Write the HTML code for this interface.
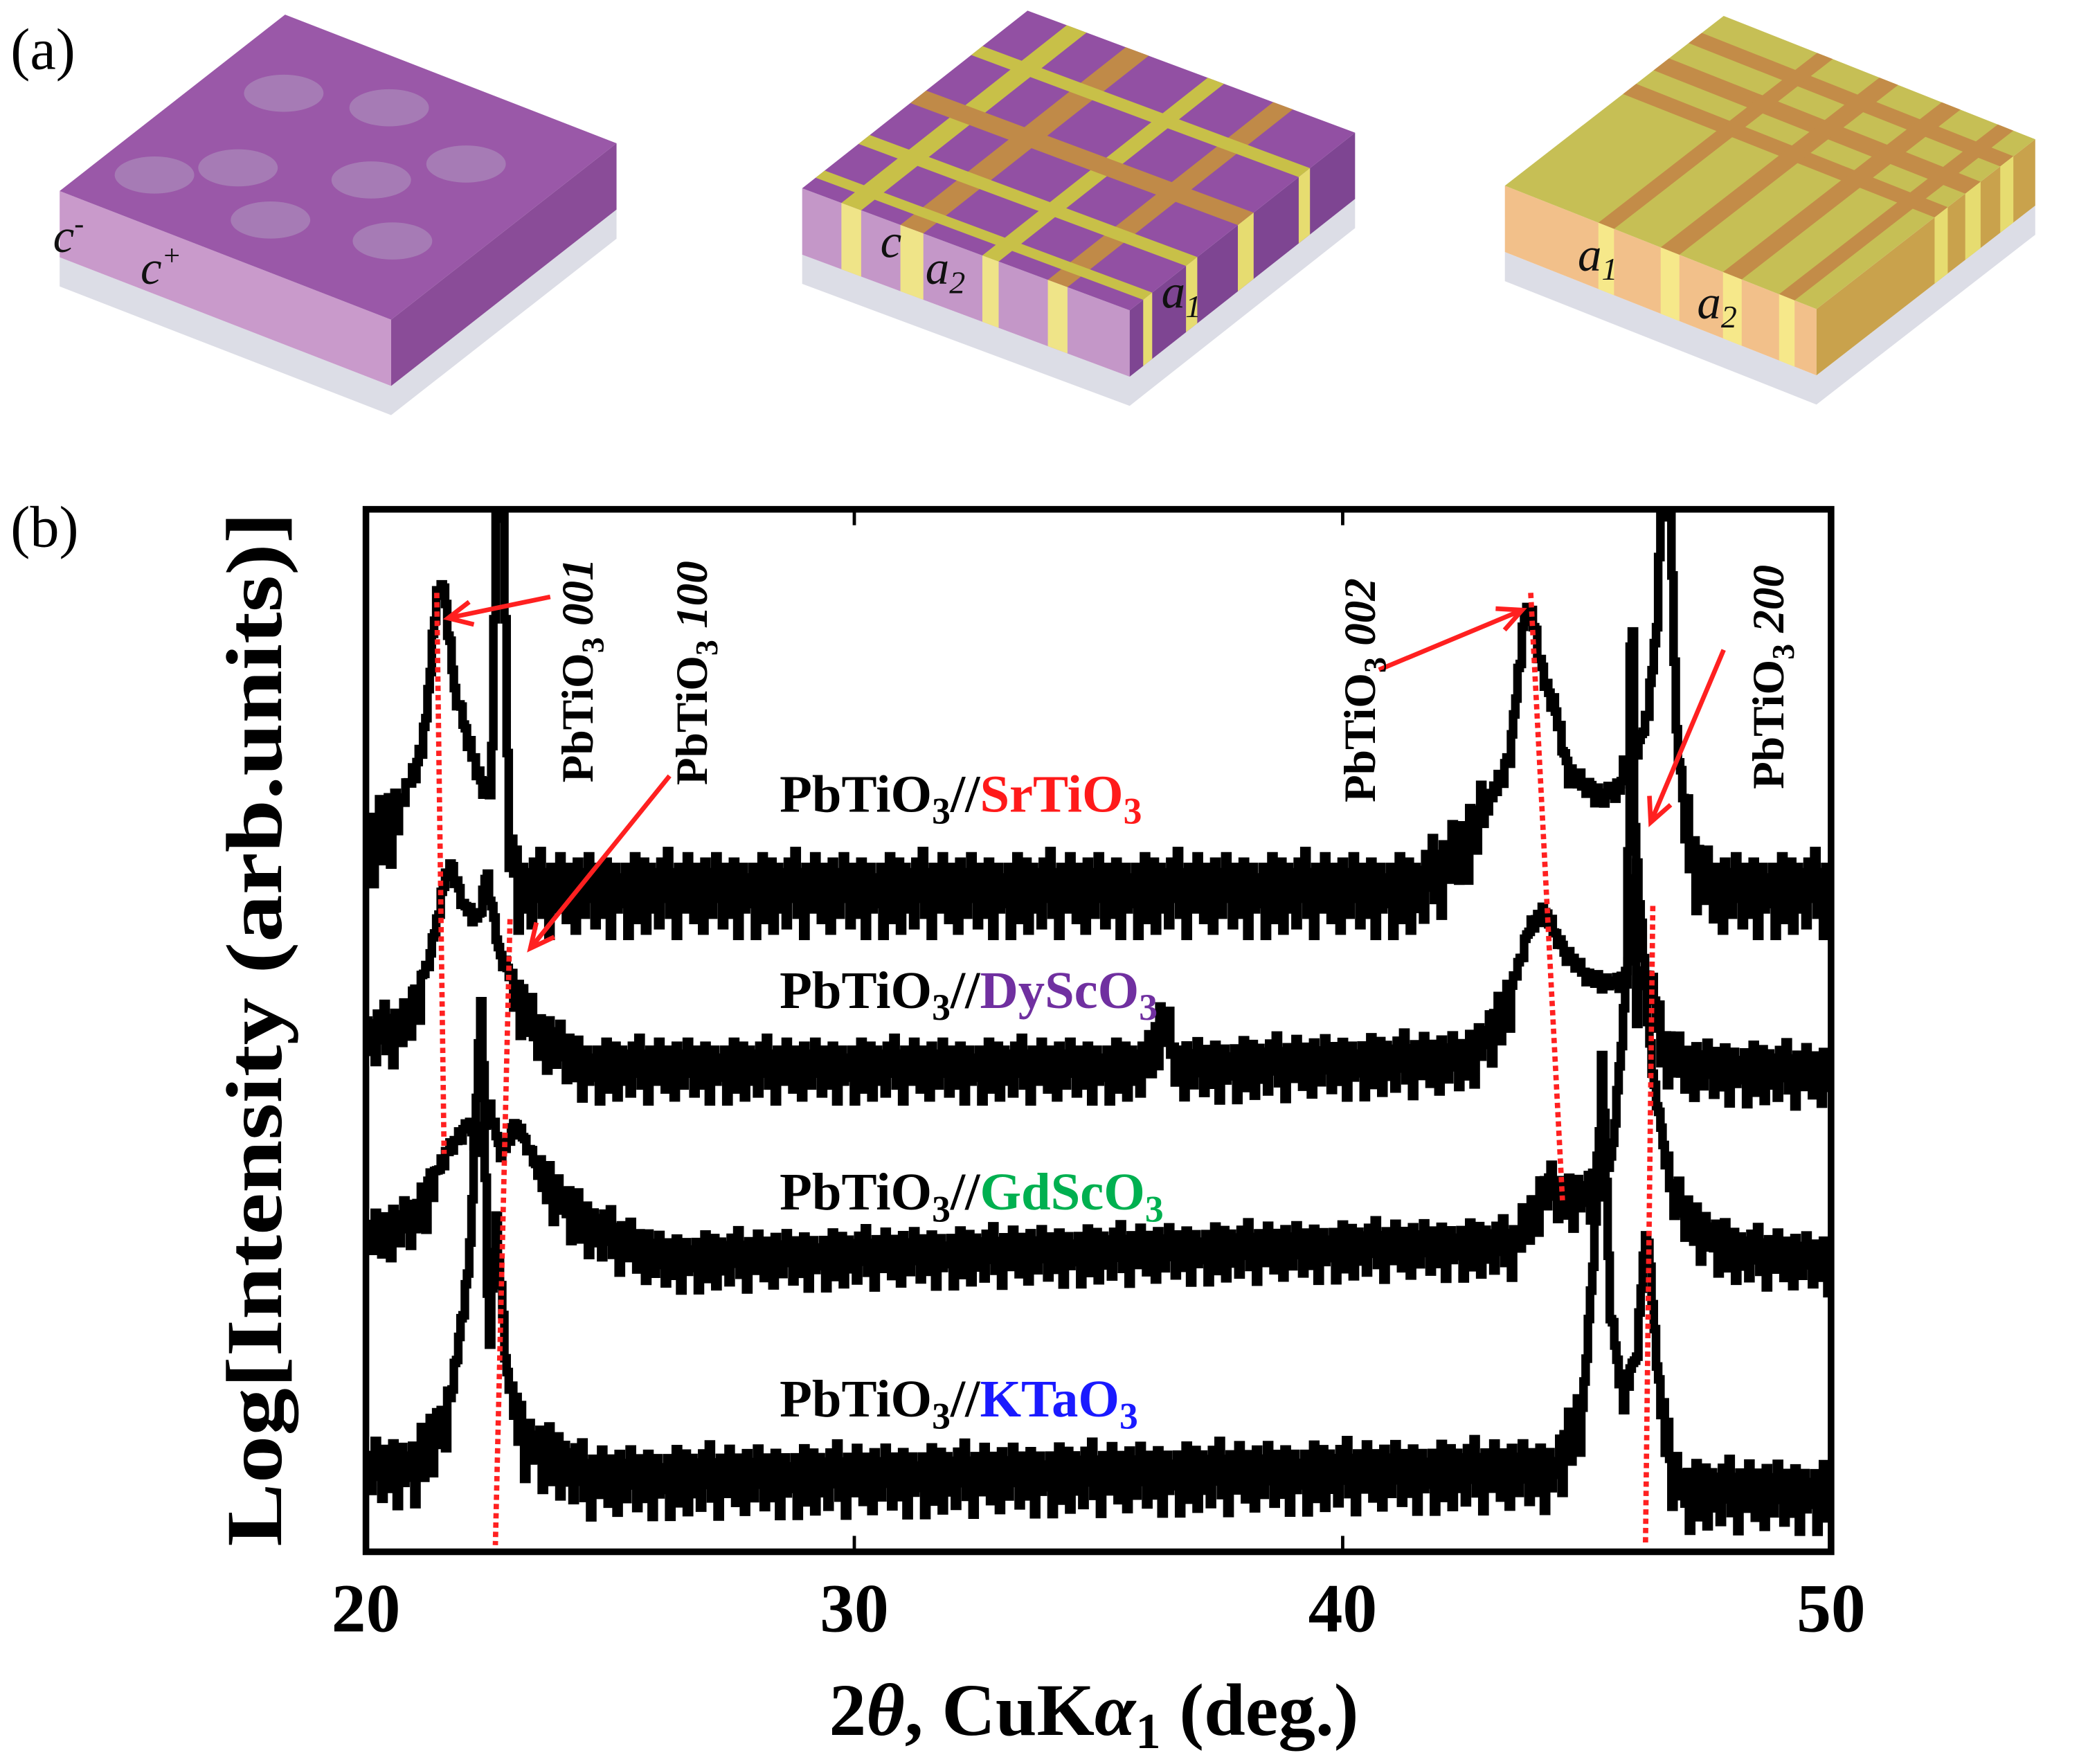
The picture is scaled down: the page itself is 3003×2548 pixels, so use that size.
<!DOCTYPE html>
<html><head><meta charset="utf-8">
<style>
html,body{margin:0;padding:0;background:#fff;}
svg{display:block;}
text{font-family:"Liberation Serif",serif;}
</style></head>
<body>
<svg id="fig" width="3003" height="2548" viewBox="0 0 1568 1330" preserveAspectRatio="none" xmlns="http://www.w3.org/2000/svg">
<rect x="0" y="0" width="1568" height="1330" fill="#fff"/>
<text x="8" y="52" font-size="44">(a)</text>
<text x="8" y="412" font-size="44">(b)</text>
<g id="slabs"></g>
<g id="chart"></g>
</svg>
<script>
// ===== Chart data =====
const xTicks = [20, 30, 40, 50];
const xTickLabels = ["20", "30", "40", "50"];
const seriesNames = ["SrTiO3", "DyScO3", "GdScO3", "KTaO3"];
const seriesColors = ["#ff1a1a", "#7030a0", "#00b050", "#1a1aff"];
const seriesBaselines = [505, 370, 228, 62];
const seriesNoiseAmp = [40, 30, 28, 34];
const srTiO3 = [[20,540],[20.5,555],[21.0,590],[21.2,625],[21.45,730],[21.6,725],[21.8,650],[22.0,625],[22.3,585],[22.55,575],[22.65,790],[22.8,790],[22.9,550],[23.1,505],[41.5,505],[42.0,520],[42.5,540],[43.0,570],[43.4,600],[43.7,707],[43.85,710],[44.1,660],[44.3,641],[44.6,590],[45.3,570],[45.7,580],[45.75,610],[45.8,580],[46.2,630],[46.4,690],[46.5,790],[46.7,790],[46.8,630],[47.0,550],[47.3,515],[47.6,505],[50,505]];
const dyScO3 = [[20,392],[20.8,400],[21.3,450],[21.6,510],[21.75,519],[21.95,490],[22.3,478],[22.45,515],[22.7,455],[23.0,430],[23.5,395],[24.5,370],[36.0,370],[36.3,410],[36.6,370],[42.5,375],[43.3,410],[43.8,470],[44.1,486],[44.5,455],[45.0,435],[45.5,430],[45.8,435],[45.9,765],[46.0,425],[46.25,437],[46.5,387],[47.0,370],[50,365]];
const gdScO3 = [[20,239],[21.0,255],[21.6,300],[22.1,325],[22.3,300],[22.5,340],[22.75,300],[23.05,325],[23.5,290],[24.5,250],[26,225],[43.5,235],[44.2,280],[44.5,270],[45.0,275],[45.5,300],[46.0,524],[46.3,370],[46.5,320],[46.7,274],[47.2,250],[48,230],[50,223]];
const kTaO3 = [[20,66],[21.0,70],[21.7,110],[22.1,220],[22.35,430],[22.5,150],[22.65,255],[22.85,140],[23.2,90],[24.5,60],[44.3,65],[44.9,110],[45.2,270],[45.3,381],[45.45,190],[45.7,116],[46.0,150],[46.2,249],[46.45,130],[46.7,70],[47.0,50],[50,49]];
const noisePattern = [0,-0.4,0.3,-1,0.2,-0.2,0.5,-0.7,0.1,-0.3,0.4,-0.9,0,0.3,-0.5,0.2,-0.1,-0.8,0.4,0.1,-0.3,0.6,-0.6,0,0.2,-1,0.3,-0.2,0.1,-0.5,0.5,-0.4,0,-0.7,0.3,0.2,-0.2,-0.9,0.4,-0.1,0.2,-0.6,0.1,0.5,-0.3,0,-0.8,0.3,-0.4,0.2,-0.6,0.4,-0.1,-1,0.2,0.3,-0.5,0.1];
const allSeries = [srTiO3, dyScO3, gdScO3, kTaO3];

const NS = "http://www.w3.org/2000/svg";
const X0 = 276, X1 = 1381, Y0 = 1170, Y1 = 384;
function xScale(t){ return X0 + (t - 20) / 30 * (X1 - X0); }
function yScale(v){ return Y0 - v / 787 * (Y0 - Y1); }
function mk(tag, attrs, parent){ const e = document.createElementNS(NS, tag); for (const k in attrs) e.setAttribute(k, attrs[k]); parent.appendChild(e); return e; }
function interp(pts, t){
  for (let i = 0; i < pts.length - 1; i++){
    if (t >= pts[i][0] && t <= pts[i+1][0]){
      const f = (t - pts[i][0]) / (pts[i+1][0] - pts[i][0]);
      return pts[i][1] + f * (pts[i+1][1] - pts[i][1]);
    }
  }
  return pts[pts.length-1][1];
}
const chart = document.getElementById('chart');
const defs = mk('defs', {}, chart);
const cp = mk('clipPath', {id:'plotclip'}, defs);
mk('rect', {x:X0, y:Y1, width:X1-X0, height:Y0-Y1}, cp);

const seriesGroup = mk('g', {'clip-path':'url(#plotclip)'}, chart);


allSeries.forEach((pts, si) => {
  let d = "";
  const step = 0.045;
  let idx = si * 13;
  let prevY = null;
  for (let t = 20; t <= 50.001; t += step){
    const env = interp(pts, t);
    const excess = env - seriesBaselines[si];
    const amp = seriesNoiseAmp[si] * (excess > 60 ? 0.25 : 1);
    const v = env + noisePattern[idx % noisePattern.length] * amp;
    idx++;
    const x = xScale(t), y = yScale(v);
    if (prevY === null) d += "M" + x.toFixed(1) + " " + y.toFixed(1);
    else d += "H" + x.toFixed(1) + "V" + y.toFixed(1);
    prevY = y;
  }
  const p = mk('path', {d:d, fill:'none', stroke:'#000', 'stroke-width':6.5, 'stroke-linejoin':'miter'}, seriesGroup);
  
  
});

const frame = mk('rect', {x:X0, y:Y1, width:X1-X0, height:Y0-Y1, fill:'none', stroke:'#000', 'stroke-width':5}, chart);



xTicks.forEach((t, i) => {
  const x = xScale(t);
  if (i > 0 && i < xTicks.length - 1){
    const tk1 = mk('line', {x1:x, x2:x, y1:Y1, y2:Y1+12, stroke:'#000', 'stroke-width':2.5}, chart);
    
    
    const tk2 = mk('line', {x1:x, x2:x, y1:Y0, y2:Y0-12, stroke:'#000', 'stroke-width':2.5}, chart);
    
    
  }
  const lb = mk('text', {x:x, y:1230, 'font-size':52, 'font-weight':'bold', 'text-anchor':'middle'}, chart);
  lb.textContent = xTickLabels[i];
  
  
});

const guides = [[21.45,447,21.6,870],[22.95,693,22.65,1165],[43.85,447,44.5,905],[46.35,683,46.2,1165]];
guides.forEach(g => {
  const l = mk('line', {x1:xScale(g[0]), y1:g[1], x2:xScale(g[2]), y2:g[3], stroke:'#ff2020', 'stroke-width':4, 'stroke-dasharray':'4 3'}, chart);
  
  
});
</script>
<script>
(function(){
const NS = "http://www.w3.org/2000/svg";
const chart = document.getElementById('chart');
function mk(tag, attrs, parent){ const e = document.createElementNS(NS, tag); for (const k in attrs) e.setAttribute(k, attrs[k]); parent.appendChild(e); return e; }
const arrows = [[415,450,338,466],[505,585,400,715],[1040,505,1148,460],[1300,490,1245,620]];
arrows.forEach(a => {
  const g = mk('g', {}, chart);
  
  
  mk('line', {x1:a[0], y1:a[1], x2:a[2], y2:a[3], stroke:'#ff2020', 'stroke-width':3.5}, g);
  const ang = Math.atan2(a[3]-a[1], a[2]-a[0]);
  const L = 20, w = 0.45;
  const p1 = [a[2]-L*Math.cos(ang-w), a[3]-L*Math.sin(ang-w)];
  const p2 = [a[2]-L*Math.cos(ang+w), a[3]-L*Math.sin(ang+w)];
  mk('polyline', {points:p1.join(',')+' '+a[2]+','+a[3]+' '+p2.join(','), fill:'none', stroke:'#ff2020', 'stroke-width':3.5}, g);
});
})();
</script>
<script>
(function(){
const NS = "http://www.w3.org/2000/svg";
const chart = document.getElementById('chart');
chart.insertAdjacentHTML('beforeend', `
<text transform="translate(212,776) rotate(-90)" text-anchor="middle" font-size="60" font-weight="bold" textLength="780" lengthAdjust="spacingAndGlyphs">Log[Intensity (arb.units)]</text>
<text x="825" y="1308" text-anchor="middle" font-size="56" font-weight="bold">2<tspan font-style="italic">θ</tspan>, CuK<tspan font-style="italic">α</tspan><tspan font-size="38" dy="10">1</tspan><tspan dy="-10"> (deg.)</tspan></text>
<g font-weight="bold" font-size="40">
<text x="588" y="612">PbTiO<tspan font-size="28" dy="9">3</tspan><tspan dy="-9">//</tspan><tspan fill="#ff1a1a">SrTiO<tspan font-size="28" dy="9">3</tspan></tspan></text>
<text x="588" y="760">PbTiO<tspan font-size="28" dy="9">3</tspan><tspan dy="-9">//</tspan><tspan fill="#7030a0">DyScO<tspan font-size="28" dy="9">3</tspan></tspan></text>
<text x="588" y="912">PbTiO<tspan font-size="28" dy="9">3</tspan><tspan dy="-9">//</tspan><tspan fill="#00b050">GdScO<tspan font-size="28" dy="9">3</tspan></tspan></text>
<text x="588" y="1068">PbTiO<tspan font-size="28" dy="9">3</tspan><tspan dy="-9">//</tspan><tspan fill="#1a1aff">KTaO<tspan font-size="28" dy="9">3</tspan></tspan></text>
</g>
<g font-weight="bold" font-size="34">
<text transform="translate(447,590) rotate(-90)">PbTiO<tspan font-size="24" dy="8">3</tspan><tspan dy="-8" font-style="italic"> 001</tspan></text>
<text transform="translate(533,592) rotate(-90)">PbTiO<tspan font-size="24" dy="8">3</tspan><tspan dy="-8" font-style="italic"> 100</tspan></text>
<text transform="translate(1037,605) rotate(-90)">PbTiO<tspan font-size="24" dy="8">3</tspan><tspan dy="-8" font-style="italic"> 002</tspan></text>
<text transform="translate(1345,595) rotate(-90)">PbTiO<tspan font-size="24" dy="8">3</tspan><tspan dy="-8" font-style="italic"> 200</tspan></text>
</g>`);

const slabs = document.getElementById('slabs');
function mk(tag, attrs, parent){ const e = document.createElementNS(NS, tag); for (const k in attrs) e.setAttribute(k, attrs[k]); parent.appendChild(e); return e; }
function pts(a){ return a.map(p=>p[0].toFixed(1)+','+p[1].toFixed(1)).join(' '); }
const defsS = [
 {B:[215,11],R:[465,108],L:[45,144],F:[295,241], top:'#9a58a8', left:'#c99acb', right:'#8a4c98', stripes:[], patches:'#a985b8', name:'slab-c-domains'},
 {B:[775,8],R:[1022,100],L:[605,142],F:[852,234], top:'#9250a3', left:'#c497c8', right:'#7e4592', stripes:[['#c8c048',0.12,0.06,'u'],['#c08a48',0.3,0.07,'u'],['#c8c048',0.55,0.05,'u'],['#c08a48',0.75,0.06,'u'],['#c8c048',0.2,0.05,'v'],['#c08a48',0.45,0.07,'v'],['#c8c048',0.7,0.05,'v'],['#c8c048',0.9,0.04,'v']], patches:null, name:'slab-mixed-domains'},
 {B:[1300,12],R:[1535,105],L:[1135,140],F:[1370,233], top:'#c6bf55', left:'#f2c08a', right:'#c9a24c', stripes:[['#c38c48',0.1,0.06,'v'],['#c38c48',0.25,0.07,'v'],['#c38c48',0.4,0.06,'v'],['#c38c48',0.3,0.05,'u'],['#c38c48',0.5,0.06,'u'],['#c38c48',0.7,0.06,'u'],['#c38c48',0.88,0.05,'u']], patches:null, name:'slab-a-domains'}
];
const T = 50, G = 22;
defsS.forEach(s => {
  const g = mk('g', {}, slabs);
  
  
  const {B,R,L,F} = s;
  const dn = (p,d)=>[p[0],p[1]+d];
  mk('polygon', {points:pts([dn(L,T),dn(F,T),dn(R,T),dn(R,T+G),dn(F,T+G),dn(L,T+G)]), fill:'#dcdde6'}, g);
  mk('polygon', {points:pts([L,F,dn(F,T),dn(L,T)]), fill:s.left}, g);
  mk('polygon', {points:pts([F,R,dn(R,T),dn(F,T)]), fill:s.right}, g);
  mk('polygon', {points:pts([B,R,F,L]), fill:s.top}, g);
  const P = (u,v)=>[B[0]+u*(R[0]-B[0])+v*(L[0]-B[0]), B[1]+u*(R[1]-B[1])+v*(L[1]-B[1])];
  s.stripes.forEach(st => {
    const [c,a,w,dir] = st;
    let poly = dir==='u' ? [P(a,0),P(a+w,0),P(a+w,1),P(a,1)] : [P(0,a),P(1,a),P(1,a+w),P(0,a+w)];
    mk('polygon', {points:pts(poly), fill:c}, g);
    if (dir==='u'){ const q1=P(a,1), q2=P(a+w,1); mk('polygon',{points:pts([q1,q2,dn(q2,T),dn(q1,T)]),fill:c==='#c38c48'?'#f6e88a':'#efe488'},g); }
    else { const q1=P(1,a), q2=P(1,a+w); mk('polygon',{points:pts([q1,q2,dn(q2,T),dn(q1,T)]),fill:'#e6dc70'},g); }
  });
  if (s.patches){
    const blobs=[[0.2,0.3],[0.45,0.2],[0.6,0.5],[0.3,0.65],[0.75,0.3],[0.5,0.8],[0.8,0.7],[0.15,0.8]];
    blobs.forEach(b=>{ const c=P(b[0],b[1]); mk('ellipse',{cx:c[0],cy:c[1],rx:30,ry:14,fill:s.patches,opacity:0.8},g); });
  }
});
slabs.insertAdjacentHTML('beforeend', `
<g font-style="italic" font-size="36" fill="#111">
<text x="40" y="190">c<tspan font-size="22" dy="-14">-</tspan></text>
<text x="106" y="214">c<tspan font-size="22" dy="-14">+</tspan></text>
<text x="664" y="194">c</text>
<text x="698" y="214">a<tspan font-size="24" dy="7">2</tspan></text>
<text x="876" y="232">a<tspan font-size="24" dy="7">1</tspan></text>
<text x="1190" y="204">a<tspan font-size="24" dy="7">1</tspan></text>
<text x="1280" y="240">a<tspan font-size="24" dy="7">2</tspan></text>
</g>`);
})();
</script>
</body></html>
